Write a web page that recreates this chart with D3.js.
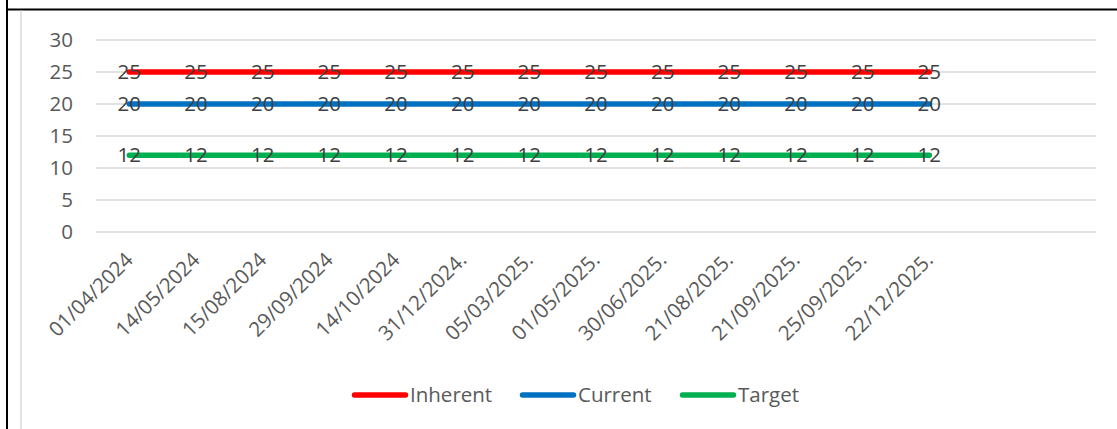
<!DOCTYPE html>
<html>
<head>
<meta charset="utf-8">
<script src="https://cdn.jsdelivr.net/npm/d3@7"></script>
<style>
  html, body { margin: 0; padding: 0; background: #fff; }
  svg { display: block; }
</style>
</head>
<body>
<div id="chart"></div>
<script>
// Review dates (two trailing empty slots on the category axis)
const categories = [
  "01/04/2024", "14/05/2024", "15/08/2024", "29/09/2024", "14/10/2024",
  "31/12/2024.", "05/03/2025.", "01/05/2025.", "30/06/2025.", "21/08/2025.",
  "21/09/2025.", "25/09/2025.", "22/12/2025.", "", ""
];
const inherent = [25, 25, 25, 25, 25, 25, 25, 25, 25, 25, 25, 25, 25];
const current  = [20, 20, 20, 20, 20, 20, 20, 20, 20, 20, 20, 20, 20];
const target   = [12, 12, 12, 12, 12, 12, 12, 12, 12, 12, 12, 12, 12];
const yTicks = [0, 5, 10, 15, 20, 25, 30];
const seriesNames = ["Inherent", "Current", "Target"];

const series = [
  { name: seriesNames[0], values: inherent, color: "#FF0000" },
  { name: seriesNames[1], values: current,  color: "#0070C0" },
  { name: seriesNames[2], values: target,   color: "#00B050" }
];

const W = 1117, H = 429;
const FONT = "'Open Sans', 'Liberation Sans', sans-serif";
const FS = "20.5px";
const plot = { left: 96, right: 1096, top: 40, bottom: 232 };

const svg = d3.select("#chart").append("svg")
  .attr("width", W).attr("height", H)
  .style("font-family", FONT);

// Sheet cell borders and chart frame
svg.append("line").attr("x1", 7).attr("x2", 7).attr("y1", 0).attr("y2", H)
  .attr("stroke", "#000").attr("stroke-width", 2);
svg.append("line").attr("x1", 7).attr("x2", W).attr("y1", 9.5).attr("y2", 9.5)
  .attr("stroke", "#000").attr("stroke-width", 2);
svg.append("line").attr("x1", 21).attr("x2", 21).attr("y1", 10.5).attr("y2", H)
  .attr("stroke", "#D9D9D9").attr("stroke-width", 1.5);

const x = d3.scaleBand()
  .domain(d3.range(categories.length))
  .range([plot.left, plot.right]);

const y = d3.scaleLinear()
  .domain([0, 30])
  .range([plot.bottom, plot.top]);

// Horizontal gridlines
svg.append("g").selectAll("line").data(yTicks).join("line")
  .attr("x1", plot.left).attr("x2", plot.right)
  .attr("y1", d => y(d)).attr("y2", d => y(d))
  .attr("stroke", "#D9D9D9").attr("stroke-width", 1.5);

// Value axis labels
const yAxis = d3.axisLeft(y).tickValues(yTicks).tickSize(0).tickPadding(0);
const yg = svg.append("g").attr("transform", `translate(73,0)`).call(yAxis);
yg.select(".domain").remove();
yg.selectAll("text")
  .attr("fill", "#595959")
  .style("font-family", FONT)
  .style("font-size", FS);

// Category axis labels, rotated
const cx = i => x(i) + x.bandwidth() / 2;
svg.append("g").selectAll("text")
  .data(categories.map((c, i) => ({ c, i })).filter(d => d.c !== ""))
  .join("text")
  .attr("transform", d => `translate(${cx(d.i)},${256}) rotate(-45)`)
  .attr("text-anchor", "end")
  .attr("dy", "0.35em")
  .attr("fill", "#595959")
  .style("font-size", FS)
  .text(d => d.c);

// Series lines
const line = d3.line()
  .defined(v => v != null)
  .x((v, i) => cx(i))
  .y(v => y(v));

svg.append("g").selectAll("path").data(series).join("path")
  .attr("d", s => line(s.values))
  .attr("fill", "none")
  .attr("stroke", s => s.color)
  .attr("stroke-width", 5.5)
  .attr("stroke-linecap", "round")
  .attr("stroke-linejoin", "round");

// Data labels
series.forEach(s => {
  svg.append("g").selectAll("text").data(s.values).join("text")
    .attr("x", (v, i) => cx(i))
    .attr("y", v => y(v))
    .attr("dy", "0.35em")
    .attr("text-anchor", "middle")
    .attr("fill", "#404040")
    .style("font-size", FS)
    .text(v => v);
});

// Legend
const legendItems = [
  { x: 352, s: series[0] },
  { x: 520, s: series[1] },
  { x: 680, s: series[2] }
];
const lg = svg.append("g").selectAll("g").data(legendItems).join("g")
  .attr("transform", d => `translate(${d.x},395)`);
lg.append("line")
  .attr("x1", 2.5).attr("x2", 53.5).attr("y1", 0).attr("y2", 0)
  .attr("stroke", d => d.s.color).attr("stroke-width", 5.5)
  .attr("stroke-linecap", "round");
lg.append("text")
  .attr("x", 58).attr("y", 0).attr("dy", "0.35em")
  .attr("fill", "#595959")
  .style("font-size", FS)
  .text(d => d.s.name);
</script>
</body>
</html>
